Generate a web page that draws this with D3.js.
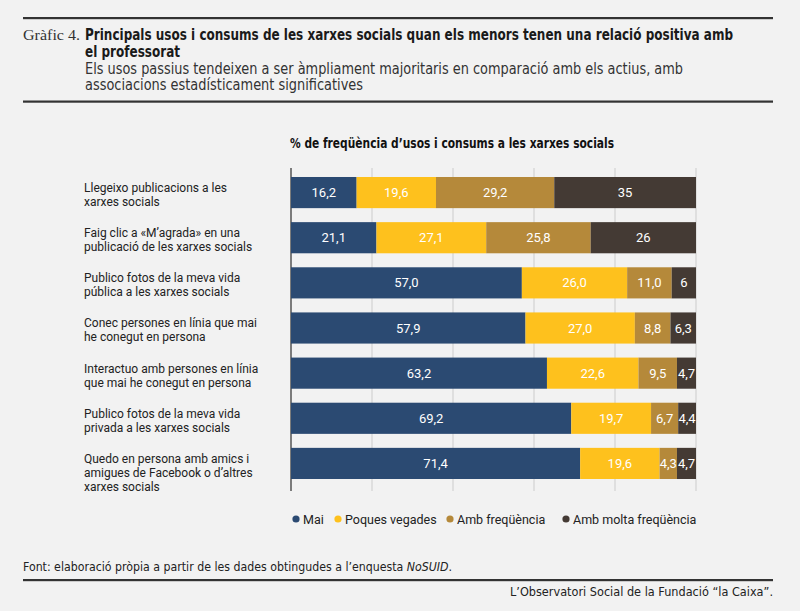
<!DOCTYPE html>
<html>
<head>
<meta charset="utf-8">
<script src="https://cdn.jsdelivr.net/npm/d3@7"></script>
<style>
	body { margin: 0; background: #f2f2f2; }
	svg { display: block; }
</style>
</head>
<body>
<div id="chart"></div>
<script>
// categories (one entry per bar, split on line breaks as in the picture)
var categories = [
	["Llegeixo publicacions a les", "xarxes socials"],
	["Faig clic a «M’agrada» en una", "publicació de les xarxes socials"],
	["Publico fotos de la meva vida", "pública a les xarxes socials"],
	["Conec persones en línia que mai", "he conegut en persona"],
	["Interactuo amb persones en línia", "que mai he conegut en persona"],
	["Publico fotos de la meva vida", "privada a les xarxes socials"],
	["Quedo en persona amb amics i", "amigues de Facebook o d’altres", "xarxes socials"]
];

var seriesNames = ["Mai", "Poques vegades", "Amb freqüència", "Amb molta freqüència"];
var seriesColors = ["#2b4a72", "#fec11d", "#b5893a", "#443a34"];

var mai = [16.2, 21.1, 57.0, 57.9, 63.2, 69.2, 71.4];
var poquesVegades = [19.6, 27.1, 26.0, 27.0, 22.6, 19.7, 19.6];
var ambFrequencia = [29.2, 25.8, 11.0, 8.8, 9.5, 6.7, 4.3];
var ambMoltaFrequencia = [35, 26, 6, 6.3, 4.7, 4.4, 4.7];

// the last series prints whole numbers without decimals
var labelFormats = [".1f", ".1f", ".1f", ".1~f"];
var xTicks = [0, 20, 40, 60, 80, 100];

var W = 800, H = 611;
var headFont = "'Liberation Sans Narrow', 'DejaVu Sans Condensed', sans-serif";
var bodyFont = "Roboto, 'Noto Sans', sans-serif";

var locale = d3.formatLocale({decimal: ",", thousands: ".", grouping: [3], currency: ["", " €"]});

var svg = d3.select("#chart").append("svg")
	.attr("width", W).attr("height", H);

// ---- header ----
svg.append("rect").attr("x", 23).attr("y", 17).attr("width", 750).attr("height", 2.2).attr("fill", "#333");
svg.append("rect").attr("x", 23).attr("y", 100.5).attr("width", 750).attr("height", 2.2).attr("fill", "#333");

function fitText(x, y, txt, len, opts) {
	var t = svg.append("text")
		.attr("x", x).attr("y", y)
		.attr("font-family", opts.family || headFont)
		.attr("font-size", opts.size || 15)
		.attr("font-weight", opts.weight || "normal")
		.attr("fill", opts.fill || "#222")
		.text(txt);
	if (len) t.attr("textLength", len).attr("lengthAdjust", "spacingAndGlyphs");
	return t;
}

fitText(23, 40, "Gràfic 4.", 57, {family: "'Liberation Serif', 'DejaVu Serif', serif", size: 15.5, fill: "#333"});
fitText(85, 40, "Principals usos i consums de les xarxes socials quan els menors tenen una relació positiva amb", 648, {size: 15.5, weight: "bold", fill: "#1a1a1a"});
fitText(85, 56.5, "el professorat", 95, {size: 15.5, weight: "bold", fill: "#1a1a1a"});
fitText(85, 74, "Els usos passius tendeixen a ser àmpliament majoritaris en comparació amb els actius, amb", 598, {size: 15.5, fill: "#333"});
fitText(85, 90, "associacions estadísticament significatives", 278, {size: 15.5, fill: "#333"});

fitText(290, 148, "% de freqüència d’usos i consums a les xarxes socials", 324, {size: 13.5, weight: "bold", fill: "#111"});

// ---- plot ----
var x = d3.scaleLinear().domain([0, 100]).range([291, 696]);
var y = d3.scaleBand().domain(d3.range(categories.length))
	.range([170, 486]).paddingInner(0.31).paddingOuter(0.155);

var g = svg.append("g");

g.selectAll("line.grid").data(xTicks.slice(1)).enter().append("line")
	.attr("class", "grid")
	.attr("x1", function (d) { return x(d); }).attr("x2", function (d) { return x(d); })
	.attr("y1", 168).attr("y2", 491)
	.attr("stroke", "#d8d8d8").attr("stroke-width", 1.5);

g.append("line")
	.attr("x1", x(0)).attr("x2", x(0))
	.attr("y1", 168).attr("y2", 491)
	.attr("stroke", "#555").attr("stroke-width", 1.5);

var series = [mai, poquesVegades, ambFrequencia, ambMoltaFrequencia];
var rows = categories.map(function (c, i) {
	var o = {i: i};
	seriesNames.forEach(function (s, k) { o[s] = series[k][i]; });
	return o;
});
var stacked = d3.stack().keys(seriesNames)(rows);

var layer = g.selectAll("g.layer").data(stacked).enter().append("g")
	.attr("class", "layer")
	.attr("fill", function (d, k) { return seriesColors[k]; });

layer.selectAll("rect").data(function (d) { return d; }).enter().append("rect")
	.attr("x", function (d) { return x(d[0]); })
	.attr("width", function (d) { return x(d[1]) - x(d[0]); })
	.attr("y", function (d) { return y(d.data.i); })
	.attr("height", y.bandwidth());

layer.each(function (d, k) {
	var fmt = locale.format(labelFormats[k]);
	d3.select(this).selectAll("text").data(d).enter().append("text")
		.attr("x", function (p) { return (x(p[0]) + x(p[1])) / 2; })
		.attr("y", function (p) { return y(p.data.i) + y.bandwidth() / 2 + 4.5; })
		.attr("text-anchor", "middle")
		.attr("font-family", bodyFont)
		.attr("font-size", 13)
		.attr("fill", "#fff")
		.text(function (p) { return fmt(p[1] - p[0]); });
});

// category labels
var cat = g.selectAll("text.cat").data(categories).enter().append("text")
	.attr("class", "cat")
	.attr("font-family", bodyFont)
	.attr("font-size", 12)
	.attr("fill", "#222");
cat.each(function (lines, i) {
	var t = d3.select(this);
	lines.forEach(function (l, j) {
		t.append("tspan").attr("x", 84).attr("y", y(i) + 15 + j * 14).text(l);
	});
});

// ---- legend ----
var legendX = [296, 338, 450, 566];
var leg = svg.selectAll("g.leg").data(seriesNames).enter().append("g")
	.attr("class", "leg")
	.attr("transform", function (d, k) { return "translate(" + legendX[k] + ",519)"; });
leg.append("circle").attr("r", 3.6).attr("fill", function (d, k) { return seriesColors[k]; });
leg.append("text").attr("x", 7).attr("y", 4.5)
	.attr("font-family", bodyFont).attr("font-size", 12.5).attr("fill", "#222")
	.text(function (d) { return d; });

// ---- footer ----
var src = fitText(23, 571, null, 429, {size: 13, fill: "#222"});
src.append("tspan").text("Font: elaboració pròpia a partir de les dades obtingudes a l’enquesta ");
src.append("tspan").attr("font-style", "italic").text("NoSUID");
src.append("tspan").text(".");

svg.append("rect").attr("x", 23).attr("y", 579).attr("width", 750).attr("height", 2.2).attr("fill", "#333");
fitText(773, 596, "L’Observatori Social de la Fundació “la Caixa”.", 263, {size: 13, fill: "#222"})
	.attr("text-anchor", "end");
</script>
</body>
</html>
